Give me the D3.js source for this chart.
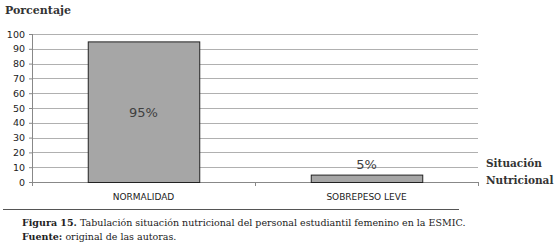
<!DOCTYPE html>
<html lang='es'>
<head>
<meta charset='UTF-8'>
<title>Situación nutricional</title>
<script src='https://d3js.org/d3.v7.min.js'></script>
<style>
  body { margin: 0; background: #fff; }
  svg { display: block; }
</style>
</head>
<body>
<div id='chart'></div>
<script>
  const categories = ['NORMALIDAD', 'SOBREPESO LEVE'];
  const values = [95, 5];
  const valueLabels = ['95%', '5%'];
  const yTicks = [0, 10, 20, 30, 40, 50, 60, 70, 80, 90, 100];

  const W = 558, H = 249;
  const m = { left: 32, right: 80, top: 34, bottom: 67 };
  const pw = W - m.left - m.right;
  const ph = H - m.top - m.bottom;

  const svg = d3.select('#chart').append('svg').attr('width', W).attr('height', H);
  const g = svg.append('g').attr('transform', `translate(${m.left},${m.top})`);

  const x = d3.scaleBand().domain(categories).range([0, pw]).paddingInner(0.5).paddingOuter(0.25);
  const y = d3.scaleLinear().domain([0, 100]).range([ph, 0]);

  // gridlines
  g.append('g').selectAll('line').data(yTicks.filter(d => d > 0)).join('line')
    .attr('x1', 0).attr('x2', pw)
    .attr('y1', d => Math.round(y(d)) + 0.5).attr('y2', d => Math.round(y(d)) + 0.5)
    .attr('stroke', '#b0b0b0');

  // y axis
  const yAxis = g.append('g')
    .call(d3.axisLeft(y).tickValues(yTicks).tickSize(3).tickPadding(4));
  yAxis.select('.domain').attr('stroke', '#888').attr('d', `M0.5,${ph}V0`);
  yAxis.selectAll('.tick line').attr('stroke', '#888');
  yAxis.selectAll('text').attr('font-family', 'DejaVu Sans').attr('font-size', 9.5).attr('fill', '#222');

  // x axis
  const xAxis = g.append('g').attr('transform', `translate(0,${ph})`);
  xAxis.append('line').attr('x1', 0).attr('x2', pw).attr('y1', 0.5).attr('y2', 0.5).attr('stroke', '#888');
  xAxis.selectAll('.xt').data([0, pw / 2, pw]).join('line').attr('class', 'xt')
    .attr('x1', d => d + 0.5).attr('x2', d => d + 0.5).attr('y1', 0).attr('y2', 4).attr('stroke', '#888');
  xAxis.selectAll('.xl').data(categories).join('text').attr('class', 'xl')
    .attr('x', d => x(d) + x.bandwidth() / 2).attr('y', 18)
    .attr('text-anchor', 'middle').attr('font-family', 'DejaVu Sans').attr('font-size', 9).attr('fill', '#222')
    .text(d => d);

  // bars
  g.selectAll('.bar').data(values).join('rect').attr('class', 'bar')
    .attr('x', (d, i) => x(categories[i]) + 0.5)
    .attr('y', d => y(d) + 0.5)
    .attr('width', x.bandwidth())
    .attr('height', d => ph - y(d))
    .attr('fill', '#a6a6a6').attr('stroke', '#222').attr('stroke-width', 1);

  // value labels
  g.selectAll('.vl').data(values).join('text').attr('class', 'vl')
    .attr('x', (d, i) => x(categories[i]) + x.bandwidth() / 2)
    .attr('y', d => d > 50 ? y(d / 2) + 5 : y(d) - 6)
    .attr('text-anchor', 'middle').attr('font-family', 'DejaVu Sans').attr('font-size', 13).attr('fill', '#404040')
    .text((d, i) => valueLabels[i]);

  // axis titles
  svg.append('text').attr('x', 5).attr('y', 14).attr('font-family', 'DejaVu Serif').attr('font-weight', 'bold')
    .attr('font-size', 11).attr('fill', '#333').text('Porcentaje');
  const xt = svg.append('text').attr('font-family', 'DejaVu Serif').attr('font-weight', 'bold')
    .attr('font-size', 10.5).attr('fill', '#333');
  xt.append('tspan').attr('x', 486).attr('y', 167).text('Situación');
  xt.append('tspan').attr('x', 486).attr('y', 184).text('Nutricional');

  // caption
  svg.append('line').attr('x1', 3).attr('x2', 459).attr('y1', 209.5).attr('y2', 209.5).attr('stroke', '#555');
  const cap = svg.append('text').attr('font-family', 'DejaVu Serif').attr('font-size', 9.5).attr('fill', '#222');
  const l1 = cap.append('tspan').attr('x', 22).attr('y', 226);
  l1.append('tspan').attr('font-weight', 'bold').text('Figura 15.');
  l1.append('tspan').text(' Tabulación situación nutricional del personal estudiantil femenino en la ESMIC.');
  const l2 = cap.append('tspan').attr('x', 22).attr('y', 240);
  l2.append('tspan').attr('font-weight', 'bold').text('Fuente:');
  l2.append('tspan').text(' original de las autoras.');
</script>
</body>
</html>
